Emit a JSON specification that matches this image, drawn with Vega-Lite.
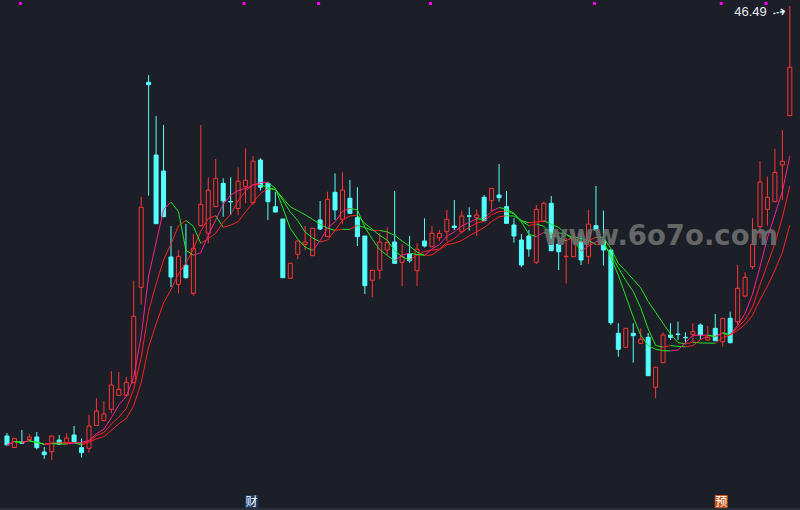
{
  "$schema": "https://vega.github.io/schema/vega-lite/v6.json",
  "width": 800,
  "height": 510,
  "autosize": {"type": "none"},
  "padding": 0,
  "background": "#1c1f27",
  "config": {"view": {"stroke": null}},
  "datasets": {
    "k": [
      {"i":0,"open":3.49,"high":3.79,"low":2.59,"close":2.59},
      {"i":1,"open":2.34,"high":3.26,"low":2.34,"close":3.26},
      {"i":2,"open":2.92,"high":4.09,"low":2.74,"close":2.76},
      {"i":3,"open":3.14,"high":3.66,"low":3.09,"close":3.39},
      {"i":4,"open":3.39,"high":3.89,"low":2.14,"close":2.32},
      {"i":5,"open":1.89,"high":2.39,"low":1.21,"close":1.62},
      {"i":6,"open":1.92,"high":3.49,"low":1.09,"close":3.49},
      {"i":7,"open":3.09,"high":3.59,"low":2.64,"close":2.67},
      {"i":8,"open":2.76,"high":3.79,"low":2.76,"close":3.29},
      {"i":9,"open":3.59,"high":4.49,"low":2.89,"close":2.92},
      {"i":10,"open":2.32,"high":3.26,"low":1.34,"close":1.82},
      {"i":11,"open":2.26,"high":5.59,"low":1.82,"close":4.49},
      {"i":12,"open":4.54,"high":7.26,"low":4.54,"close":5.99},
      {"i":13,"open":5.02,"high":6.99,"low":5.02,"close":5.69},
      {"i":14,"open":6.16,"high":9.99,"low":5.76,"close":8.59},
      {"i":15,"open":7.56,"high":9.89,"low":7.56,"close":8.16},
      {"i":16,"open":7.56,"high":9.39,"low":7.56,"close":8.86},
      {"i":17,"open":8.82,"high":19.02,"low":8.79,"close":15.46},
      {"i":18,"open":18.36,"high":27.39,"low":16.64,"close":26.36},
      {"i":19,"open":38.86,"high":39.59,"low":27.52,"close":38.62},
      {"i":20,"open":31.59,"high":35.49,"low":24.72,"close":24.72},
      {"i":21,"open":29.99,"high":34.59,"low":25.42,"close":25.42},
      {"i":22,"open":21.39,"high":24.49,"low":18.39,"close":19.39},
      {"i":23,"open":18.66,"high":22.09,"low":17.74,"close":21.46},
      {"i":24,"open":20.56,"high":24.69,"low":19.22,"close":19.32},
      {"i":25,"open":17.76,"high":23.69,"low":17.52,"close":22.26},
      {"i":26,"open":24.52,"high":34.59,"low":24.42,"close":26.66},
      {"i":27,"open":23.76,"high":29.36,"low":22.76,"close":28.07},
      {"i":28,"open":26.42,"high":31.19,"low":26.42,"close":29.26},
      {"i":29,"open":28.76,"high":29.26,"low":25.42,"close":26.99},
      {"i":30,"open":26.94,"high":29.36,"low":25.59,"close":26.90},
      {"i":31,"open":26.24,"high":30.36,"low":25.56,"close":28.97},
      {"i":32,"open":28.42,"high":32.26,"low":26.76,"close":29.07},
      {"i":33,"open":26.82,"high":31.49,"low":26.59,"close":30.97},
      {"i":34,"open":31.09,"high":31.26,"low":28.04,"close":28.37},
      {"i":35,"open":28.76,"high":28.76,"low":25.09,"close":26.92},
      {"i":36,"open":26.42,"high":27.92,"low":25.84,"close":25.89},
      {"i":37,"open":25.19,"high":25.19,"low":19.32,"close":19.32},
      {"i":38,"open":19.26,"high":20.76,"low":19.26,"close":20.76},
      {"i":39,"open":21.66,"high":22.99,"low":21.19,"close":22.99},
      {"i":40,"open":22.66,"high":24.49,"low":22.09,"close":22.89},
      {"i":41,"open":21.52,"high":24.26,"low":21.52,"close":24.26},
      {"i":42,"open":25.09,"high":26.99,"low":24.09,"close":24.19},
      {"i":43,"open":23.42,"high":27.92,"low":23.42,"close":27.16},
      {"i":44,"open":27.86,"high":29.76,"low":25.09,"close":26.09},
      {"i":45,"open":25.16,"high":29.86,"low":24.66,"close":28.09},
      {"i":46,"open":27.26,"high":29.09,"low":25.76,"close":25.76},
      {"i":47,"open":25.32,"high":28.36,"low":22.49,"close":23.42},
      {"i":48,"open":23.49,"high":23.49,"low":17.69,"close":18.52},
      {"i":49,"open":19.06,"high":20.06,"low":17.36,"close":20.06},
      {"i":50,"open":20.06,"high":23.79,"low":19.16,"close":22.89},
      {"i":51,"open":22.09,"high":24.36,"low":21.59,"close":22.82},
      {"i":52,"open":22.89,"high":27.99,"low":20.76,"close":20.76},
      {"i":53,"open":20.86,"high":22.69,"low":18.49,"close":21.42},
      {"i":54,"open":21.69,"high":23.49,"low":20.82,"close":21.02},
      {"i":55,"open":20.02,"high":22.76,"low":18.49,"close":22.16},
      {"i":56,"open":22.99,"high":25.26,"low":22.36,"close":22.49},
      {"i":57,"open":22.42,"high":24.49,"low":22.42,"close":23.76},
      {"i":58,"open":23.32,"high":24.09,"low":22.99,"close":23.76},
      {"i":59,"open":23.92,"high":26.09,"low":22.99,"close":25.16},
      {"i":60,"open":24.49,"high":27.09,"low":24.09,"close":24.34},
      {"i":61,"open":23.92,"high":26.02,"low":23.76,"close":25.49},
      {"i":62,"open":25.51,"high":26.36,"low":24.02,"close":25.46},
      {"i":63,"open":25.32,"high":26.16,"low":23.49,"close":25.59},
      {"i":64,"open":27.36,"high":27.59,"low":25.02,"close":25.02},
      {"i":65,"open":27.02,"high":28.26,"low":25.92,"close":28.26},
      {"i":66,"open":27.59,"high":30.69,"low":26.92,"close":27.32},
      {"i":67,"open":26.42,"high":27.99,"low":24.76,"close":24.76},
      {"i":68,"open":24.59,"high":25.26,"low":22.82,"close":23.49},
      {"i":69,"open":23.09,"high":23.69,"low":20.36,"close":20.59},
      {"i":70,"open":23.49,"high":24.09,"low":21.42,"close":22.19},
      {"i":71,"open":20.86,"high":26.59,"low":20.69,"close":26.16},
      {"i":72,"open":24.92,"high":26.92,"low":24.92,"close":26.76},
      {"i":73,"open":26.76,"high":27.49,"low":22.02,"close":22.02},
      {"i":74,"open":22.69,"high":23.49,"low":20.09,"close":21.92},
      {"i":75,"open":21.42,"high":23.29,"low":18.74,"close":21.46},
      {"i":76,"open":21.42,"high":23.82,"low":21.42,"close":23.26},
      {"i":77,"open":22.92,"high":23.92,"low":20.59,"close":21.09},
      {"i":78,"open":21.42,"high":26.09,"low":20.69,"close":24.69},
      {"i":79,"open":24.52,"high":28.49,"low":24.09,"close":24.09},
      {"i":80,"open":23.09,"high":26.02,"low":20.52,"close":22.09},
      {"i":81,"open":22.09,"high":22.09,"low":14.59,"close":14.82},
      {"i":82,"open":13.76,"high":14.76,"low":11.42,"close":12.16},
      {"i":83,"open":12.36,"high":14.26,"low":12.29,"close":14.26},
      {"i":84,"open":13.76,"high":14.76,"low":10.82,"close":13.52},
      {"i":85,"open":12.76,"high":14.26,"low":12.69,"close":13.16},
      {"i":86,"open":13.36,"high":13.79,"low":9.52,"close":9.52},
      {"i":87,"open":8.36,"high":10.36,"low":7.26,"close":10.36},
      {"i":88,"open":10.82,"high":13.86,"low":10.76,"close":13.59},
      {"i":89,"open":13.59,"high":14.76,"low":13.09,"close":13.36},
      {"i":90,"open":13.69,"high":14.92,"low":13.09,"close":13.64},
      {"i":91,"open":13.36,"high":13.86,"low":12.76,"close":13.31},
      {"i":92,"open":13.66,"high":14.76,"low":12.86,"close":13.92},
      {"i":93,"open":14.59,"high":14.76,"low":13.16,"close":13.59},
      {"i":94,"open":13.09,"high":14.49,"low":13.02,"close":13.36},
      {"i":95,"open":14.26,"high":15.69,"low":13.02,"close":13.02},
      {"i":96,"open":12.92,"high":15.26,"low":12.42,"close":15.26},
      {"i":97,"open":15.26,"high":15.92,"low":12.76,"close":12.82},
      {"i":98,"open":14.92,"high":20.59,"low":14.59,"close":18.26},
      {"i":99,"open":17.49,"high":19.86,"low":17.36,"close":19.36},
      {"i":100,"open":20.42,"high":25.26,"low":20.16,"close":22.66},
      {"i":101,"open":24.42,"high":30.99,"low":23.26,"close":28.89},
      {"i":102,"open":26.16,"high":29.42,"low":24.52,"close":27.36},
      {"i":103,"open":26.92,"high":32.19,"low":26.92,"close":29.86},
      {"i":104,"open":30.59,"high":34.09,"low":27.09,"close":30.96},
      {"i":105,"open":35.52,"high":46.49,"low":35.52,"close":40.36}
    ],
    "events": [{"i":2},{"i":32},{"i":42},{"i":57},{"i":79},{"i":96},{"i":102}],
    "notes": [{"i":33,"label":"财"},{"i":96,"label":"预"}]
  },
  "layer": [
    {
      "data": {"values": [{}]},
      "mark": {"type": "rule", "color": "#3a3e48", "strokeWidth": 1},
      "encoding": {
        "y": {
          "datum": -3.81, "type": "quantitative",
          "scale": {"domain": [-3.91, 47.09], "nice": false, "zero": false},
          "axis": {
            "values": [45.59, 41.57, 37.54, 33.52, 29.49, 25.47, 21.44, 17.42, 13.39, 9.37, 5.34, 1.32],
            "grid": true, "gridColor": "#4b505b", "gridDash": [1, 2], "gridWidth": 1,
            "labels": false, "ticks": false, "domain": false, "title": null,
            "minExtent": 0, "maxExtent": 0, "offset": 0
          }
        }
      }
    },
    {
      "data": {"name": "k"},
      "mark": {"type": "rule", "strokeWidth": 1},
      "encoding": {
        "x": {"field": "i", "type": "quantitative", "scale": {"domain": [-0.265, 105.695], "nice": false, "zero": false}, "axis": null},
        "y": {"field": "low", "type": "quantitative", "scale": {"domain": [-3.91, 47.09], "nice": false, "zero": false}, "axis": null},
        "y2": {"field": "high"},
        "color": {"condition": {"test": "datum.close >= datum.open", "value": "#ff3434"}, "value": "#54ffff"}
      }
    },
    {
      "data": {"name": "k"},
      "mark": {"type": "bar", "width": 4, "strokeWidth": 1},
      "encoding": {
        "x": {"field": "i", "type": "quantitative", "scale": {"domain": [-0.265, 105.695], "nice": false, "zero": false}, "axis": null},
        "y": {"field": "open", "type": "quantitative", "scale": {"domain": [-3.91, 47.09], "nice": false, "zero": false}, "axis": null},
        "y2": {"field": "close"},
        "fill": {"condition": {"test": "datum.close >= datum.open", "value": "#1c1f27"}, "value": "#54ffff"},
        "stroke": {"condition": {"test": "datum.close >= datum.open", "value": "#ff3434"}, "value": "#54ffff"}
      }
    },
    {
      "data": {"name": "k"},
      "transform": [
        {"window": [{"op": "mean", "field": "close", "as": "ma5"}], "frame": [-4, 0], "sort": [{"field": "i", "order": "ascending"}]},
        {"window": [{"op": "mean", "field": "close", "as": "ma7"}], "frame": [-6, 0], "sort": [{"field": "i", "order": "ascending"}]},
        {"window": [{"op": "mean", "field": "close", "as": "ma10"}], "frame": [-9, 0], "sort": [{"field": "i", "order": "ascending"}]},
        {"window": [
          {"op": "lag", "field": "ma5", "as": "p5"},
          {"op": "lag", "field": "ma7", "as": "p7"},
          {"op": "lag", "field": "ma10", "as": "p10"},
          {"op": "lag", "field": "i", "as": "pi"}
        ], "sort": [{"field": "i", "order": "ascending"}]},
        {"filter": "datum.pi != null"}
      ],
      "layer": [
        {
          "mark": {"type": "rule", "strokeWidth": 1},
          "encoding": {
            "x": {"field": "pi", "type": "quantitative", "scale": {"domain": [-0.265, 105.695], "nice": false, "zero": false}, "axis": null},
            "x2": {"field": "i"},
            "y": {"field": "p10", "type": "quantitative", "scale": {"domain": [-3.91, 47.09], "nice": false, "zero": false}, "axis": null},
            "y2": {"field": "ma10"},
            "color": {"condition": {"test": "datum.ma10 >= datum.p10", "value": "#ff2020"}, "value": "#1ee61e"}
          }
        },
        {
          "mark": {"type": "rule", "strokeWidth": 1},
          "encoding": {
            "x": {"field": "pi", "type": "quantitative", "scale": {"domain": [-0.265, 105.695], "nice": false, "zero": false}, "axis": null},
            "x2": {"field": "i"},
            "y": {"field": "p7", "type": "quantitative", "scale": {"domain": [-3.91, 47.09], "nice": false, "zero": false}, "axis": null},
            "y2": {"field": "ma7"},
            "color": {"condition": {"test": "datum.ma7 >= datum.p7", "value": "#ff2020"}, "value": "#1ee61e"}
          }
        },
        {
          "mark": {"type": "rule", "strokeWidth": 1},
          "encoding": {
            "x": {"field": "pi", "type": "quantitative", "scale": {"domain": [-0.265, 105.695], "nice": false, "zero": false}, "axis": null},
            "x2": {"field": "i"},
            "y": {"field": "p5", "type": "quantitative", "scale": {"domain": [-3.91, 47.09], "nice": false, "zero": false}, "axis": null},
            "y2": {"field": "ma5"},
            "color": {"condition": {"test": "datum.ma5 >= datum.p5", "value": "#ff1e8c"}, "value": "#1ee61e"}
          }
        }
      ]
    },
    {
      "data": {"name": "events"},
      "mark": {"type": "square", "size": 9, "filled": true, "color": "#ff00ff", "opacity": 1, "xOffset": -1.5},
      "encoding": {
        "x": {"field": "i", "type": "quantitative", "scale": {"domain": [-0.265, 105.695], "nice": false, "zero": false}, "axis": null},
        "y": {"datum": 46.74, "type": "quantitative", "scale": {"domain": [-3.91, 47.09], "nice": false, "zero": false}, "axis": null}
      }
    },
    {
      "data": {"values": [{"site": "www.6o7o.com"}]},
      "mark": {"type": "text", "font": "DejaVu Sans", "fontWeight": "bold", "fontSize": 27.5, "color": "#6e6e6e", "opacity": 0.9, "align": "right", "baseline": "alphabetic"},
      "encoding": {
        "x": {"datum": 103.44, "type": "quantitative", "scale": {"domain": [-0.265, 105.695], "nice": false, "zero": false}, "axis": null},
        "y": {"datum": 22.59, "type": "quantitative", "scale": {"domain": [-3.91, 47.09], "nice": false, "zero": false}, "axis": null},
        "text": {"field": "site"}
      }
    },
    {
      "data": {"name": "notes"},
      "mark": {"type": "square", "size": 169, "filled": true, "opacity": 1, "xOffset": -1.5},
      "encoding": {
        "x": {"field": "i", "type": "quantitative", "scale": {"domain": [-0.265, 105.695], "nice": false, "zero": false}, "axis": null},
        "y": {"datum": -3.06, "type": "quantitative", "scale": {"domain": [-3.91, 47.09], "nice": false, "zero": false}, "axis": null},
        "color": {"condition": {"test": "datum.label == '财'", "value": "#1b3a66"}, "value": "#c4561c"}
      }
    },
    {
      "data": {"name": "notes"},
      "mark": {"type": "text", "font": "Noto Sans CJK SC", "fontSize": 12, "color": "#ffffff", "align": "center", "baseline": "middle", "dx": -1.5},
      "encoding": {
        "x": {"field": "i", "type": "quantitative", "scale": {"domain": [-0.265, 105.695], "nice": false, "zero": false}, "axis": null},
        "y": {"datum": -3.06, "type": "quantitative", "scale": {"domain": [-3.91, 47.09], "nice": false, "zero": false}, "axis": null},
        "text": {"field": "label"}
      }
    },
    {
      "data": {"values": [{"i": 105, "price": 46.49, "label": "46.49"}]},
      "layer": [
        {
          "mark": {"type": "text", "font": "Liberation Sans", "fontSize": 13, "color": "#e6ecf5", "align": "right", "baseline": "alphabetic", "dx": -23, "dy": 10},
          "encoding": {
            "x": {"field": "i", "type": "quantitative", "scale": {"domain": [-0.265, 105.695], "nice": false, "zero": false}, "axis": null},
            "y": {"field": "price", "type": "quantitative", "scale": {"domain": [-3.91, 47.09], "nice": false, "zero": false}, "axis": null},
            "text": {"field": "label"}
          }
        },
        {
          "mark": {"type": "text", "font": "DejaVu Sans", "fontSize": 16, "color": "#e6ecf5", "align": "center", "baseline": "middle", "dx": -12, "dy": 4, "angle": -12},
          "encoding": {
            "x": {"field": "i", "type": "quantitative", "scale": {"domain": [-0.265, 105.695], "nice": false, "zero": false}, "axis": null},
            "y": {"field": "price", "type": "quantitative", "scale": {"domain": [-3.91, 47.09], "nice": false, "zero": false}, "axis": null},
            "text": {"value": "⇢"}
          }
        }
      ]
    }
  ]
}
